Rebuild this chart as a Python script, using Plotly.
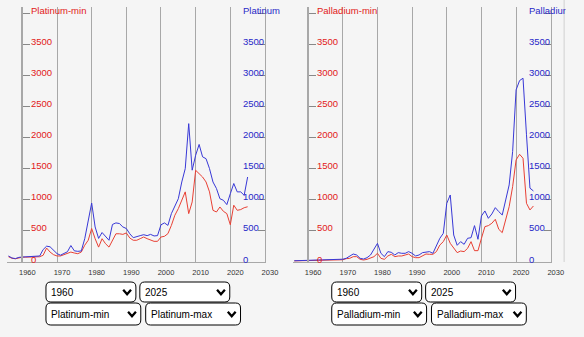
import plotly.graph_objects as go

years = list(range(1956, 2026))

platinum_min = [85, 60, 52, 70, 78, 78, 79, 80, 82, 85,
                108, 225, 160, 118, 97, 97, 118, 145, 160, 145,
                134, 160, 270, 350, 540, 375, 240, 375, 295, 240,
                350, 455, 455, 445, 468, 387, 350, 350, 376, 403,
                376, 360, 333, 333, 403, 414, 457, 590, 753, 860,
                995, 1130, 780, 968, 1478, 1425, 1370, 1290, 1130, 833,
                806, 887, 817, 780, 600, 915, 833, 845, 875, 890]

platinum_max = [97, 65, 55, 75, 80, 82, 82, 83, 85, 97,
                200, 255, 245, 190, 135, 110, 135, 165, 265, 180,
                172, 178, 375, 645, 950, 565, 380, 475, 405, 350,
                605, 630, 620, 565, 540, 455, 392, 403, 425, 440,
                425, 445, 420, 425, 600, 630, 590, 780, 910, 1020,
                1290, 1505, 2230, 1480, 1720, 1895, 1695, 1665, 1505, 1290,
                1185, 1020, 995, 925, 1100, 1265, 1130, 1130, 1075, 1370]

palladium_min = [18, 20, 20, 22, 22, 24, 25, 27, 28, 30,
                 32, 33, 34, 35, 36, 54, 59, 86, 86, 43,
                 32, 43, 59, 86, 140, 59, 43, 97, 124, 86,
                 97, 97, 113, 129, 86, 70, 70, 97, 129, 124,
                 124, 167, 274, 328, 435, 301, 220, 151, 177, 167,
                 220, 328, 183, 183, 382, 570, 586, 624, 688, 527,
                 473, 704, 892, 1215, 1645, 1736, 1672, 946, 839, 903]

palladium_max = [20, 22, 24, 25, 26, 27, 30, 32, 35, 38,
                 40, 38, 40, 42, 45, 60, 97, 129, 113, 59,
                 48, 70, 113, 210, 300, 140, 86, 167, 156, 113,
                 151, 140, 140, 167, 140, 97, 113, 151, 156, 167,
                 140, 274, 382, 462, 946, 1080, 435, 269, 328, 285,
                 382, 392, 586, 366, 742, 823, 704, 774, 876, 812,
                 758, 1000, 1242, 1780, 2774, 2924, 2962, 2050, 1190, 1145]

x_ticks = [1960, 1970, 1980, 1990, 2000, 2010, 2020, 2030]
y_ticks = [0, 500, 1000, 1500, 2000, 2500, 3000, 3500, 4000]
y_tick_labels = ["0", "500", "1000", "1500", "2000", "2500", "3000", "3500"]

panels = [
    {"min": platinum_min, "max": platinum_max, "min_name": "Platinum-min",
     "max_name": "Platinum-max", "right_title": "Platinum", "from": "1960", "to": "2025"},
    {"min": palladium_min, "max": palladium_max, "min_name": "Palladium-min",
     "max_name": "Palladium-max", "right_title": "Palladium", "from": "1960", "to": "2025"},
]

W, H = 584, 337
RED_TXT = "rgb(226,32,32)"
BLUE_TXT = "rgb(40,40,200)"
RED_LINE = "rgb(232,64,52)"
BLUE_LINE = "rgb(56,56,214)"
GRID = "#a8a8a8"
BG = "#f5f5f5"
FONT = "Liberation Sans, Arial, sans-serif"


def px(x):
    return x / W


def py(y):
    return 1 - y / H


def rrect(l, t, r, b, rad=5):
    return (f"M {px(l+rad)},{py(t)} L {px(r-rad)},{py(t)} Q {px(r)},{py(t)} {px(r)},{py(t+rad)} "
            f"L {px(r)},{py(b-rad)} Q {px(r)},{py(b)} {px(r-rad)},{py(b)} "
            f"L {px(l+rad)},{py(b)} Q {px(l)},{py(b)} {px(l)},{py(b-rad)} "
            f"L {px(l)},{py(t+rad)} Q {px(l)},{py(t)} {px(l+rad)},{py(t)} Z")


fig = go.Figure()
layout = dict(
    width=W, height=H, margin=dict(l=0, r=0, t=0, b=0),
    paper_bgcolor=BG, plot_bgcolor=BG, showlegend=False,
    font=dict(family=FONT),
)
shapes = []
annotations = []

y_dom = [py(262), py(7)]
for i, p in enumerate(panels):
    off = 292.3 * i
    xa = "x" if i == 0 else f"x{i+1}"
    ya_l = 2 * i + 1
    ya_r = 2 * i + 2
    yl = "y" if ya_l == 1 else f"y{ya_l}"
    yr = f"y{ya_r}"
    fig.add_trace(go.Scatter(x=years, y=p["min"], mode="lines", xaxis=xa, yaxis=yl,
                             line=dict(color=RED_LINE, width=1), name=p["min_name"]))
    fig.add_trace(go.Scatter(x=years, y=p["max"], mode="lines", xaxis=xa, yaxis=yr,
                             line=dict(color=BLUE_LINE, width=1), name=p["max_name"]))
    xkey = "xaxis" if i == 0 else f"xaxis{i+1}"
    layout[xkey] = dict(
        domain=[px(6.9 + off), px(271 + off)], range=[1955.5, 2030],
        anchor=yl, tickvals=x_ticks, showgrid=True, gridcolor=GRID, gridwidth=1,
        showline=True, linecolor=GRID, linewidth=1, zeroline=False, ticks="",
        tickfont=dict(size=7.5, color="#333"), ticklabelshift=5, ticklabelstandoff=3,
        fixedrange=True,
    )
    ylkey = "yaxis" if ya_l == 1 else f"yaxis{ya_l}"
    layout[ylkey] = dict(
        domain=y_dom, range=[0, 4110], anchor="free", position=px(22.85 + off),
        side="left", showline=True, linecolor=GRID, linewidth=2, showgrid=False,
        zeroline=False, tickvals=y_ticks, showticklabels=False,
        ticks="inside", ticklen=7, tickcolor="#888", tickwidth=1, fixedrange=True,
    )
    layout[f"yaxis{ya_r}"] = dict(
        domain=y_dom, range=[0, 4110], anchor=xa, overlaying=yl, side="right",
        showline=True, linecolor=GRID, linewidth=1, showgrid=False, zeroline=False,
        tickvals=y_ticks, ticks="inside", ticklen=7, tickcolor="#888", tickwidth=1,
        showticklabels=False, fixedrange=True,
    )
    # left-axis labels (red)
    for v, t in zip(y_ticks, y_tick_labels + [p["min_name"]]):
        annotations.append(dict(
            x=px(30.5 + off), xref="paper", y=v, yref=yl, yshift=3,
            text=t, showarrow=False, xanchor="left", yanchor="middle", align="left",
            font=dict(size=9.5, color=RED_TXT), borderpad=0,
        ))
    # right-axis labels (blue), left aligned like the reference
    for v, t in zip(y_ticks, y_tick_labels + [p["right_title"]]):
        clip = (t == p["right_title"] and i == 1)
        annotations.append(dict(
            x=px(248 + off), xref="paper", y=v, yref=yr, yshift=3,
            text=t, showarrow=False, xanchor="left", yanchor="middle", align="left",
            width=(577 - (248 + off) if clip else None),
            font=dict(size=9.5, color=BLUE_TXT), borderpad=0,
        ))
    # dropdowns
    boxes = [
        (47, 282, 139, 302, p["from"]),
        (143, 282, 235, 302, p["to"]),
        (47, 303, 144, 325, p["min_name"]),
        (149, 303, 246, 325, p["max_name"]),
    ]
    for (l, t, r, b, label) in boxes:
        l += off
        r += off
        shapes.append(dict(type="path", xref="paper", yref="paper", path=rrect(l, t, r, b),
                           fillcolor="white", line=dict(color="black", width=1)))
        cy = (t + b) / 2
        annotations.append(dict(x=px(l + 4.5), xref="paper", y=py(cy), yref="paper",
                                text=label, showarrow=False, xanchor="left", yanchor="middle",
                                font=dict(size=10, color="black"), borderpad=0))
        cx = r - 9
        shapes.append(dict(type="path", xref="paper", yref="paper",
                           path=f"M {px(cx-4)},{py(cy-2.2)} L {px(cx)},{py(cy+2.2)} L {px(cx+4)},{py(cy-2.2)}",
                           line=dict(color="black", width=2.3)))

# faint border line at right edge
shapes.append(dict(type="line", xref="paper", yref="paper", x0=px(577), x1=px(577),
                   y0=py(262), y1=py(0), line=dict(color="#d0d0d0", width=1)))

layout["shapes"] = shapes
layout["annotations"] = annotations
fig.update_layout(**layout)
fig.write_html("out.html")
